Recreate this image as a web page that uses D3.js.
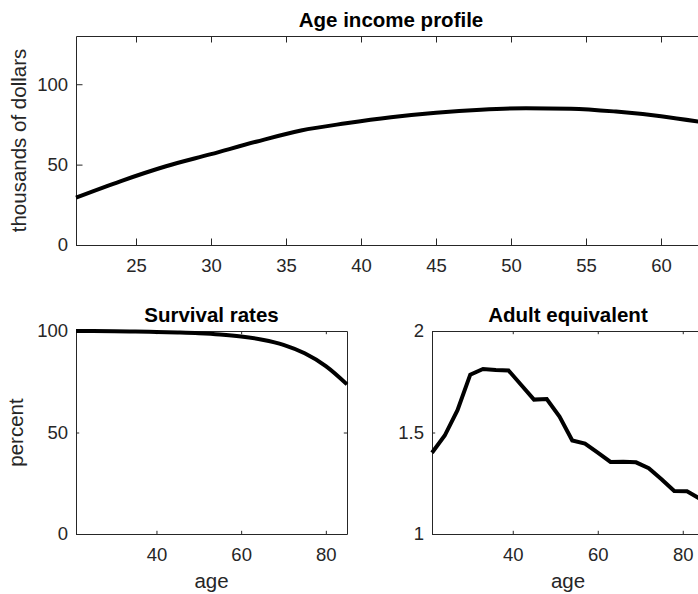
<!DOCTYPE html>
<html>
<head>
<meta charset="utf-8">
<script src="https://cdn.jsdelivr.net/npm/d3@7"></script>
<style>
  html, body { margin: 0; padding: 0; background: #fff; overflow: hidden; }
  svg { display: block; }
  text { font-family: "Liberation Sans", Arial, Helvetica, sans-serif; }
</style>
</head>
<body>
<svg id="fig" width="698" height="594"></svg>
<script>
// Age income profile (thousands of dollars)
const incomeAge   = [21, 24, 27, 30, 33, 36, 39, 42, 45, 48, 51, 54, 57, 60, 63];
const incomeValue = [29.5, 39.8, 49.0, 56.5, 64.2, 71.2, 75.7, 79.5, 82.3, 84.2, 85.1, 84.8, 83.0, 80.1, 76.0];

// Survival rates (percent)
const survivalAge   = [21, 25, 30, 35, 40, 45, 50, 55, 60, 65, 70, 75, 80, 85];
const survivalValue = [100, 99.95, 99.85, 99.7, 99.5, 99.25, 98.9, 98.3, 97.3, 95.7, 93.2, 89.0, 82.7, 73.7];

// Adult equivalent scale
const equivAge   = [21, 24, 27, 30, 33, 36, 39, 42, 45, 48, 51, 54, 57, 60, 63, 66, 69, 72, 75, 78, 81, 84];
const equivValue = [1.40, 1.485, 1.61, 1.785, 1.813, 1.808, 1.806, 1.734, 1.662, 1.665, 1.578, 1.461,
                    1.445, 1.401, 1.355, 1.356, 1.353, 1.324, 1.270, 1.212, 1.211, 1.174];

// Tick values
const incomeXTicks   = [25, 30, 35, 40, 45, 50, 55, 60];
const incomeYTicks   = [0, 50, 100];
const lowerXTicks    = [40, 60, 80];
const survivalYTicks = [0, 50, 100];
const equivYTicks    = [1, 1.5, 2];

const AXIS_COLOR = "#262626";
const svg = d3.select("#fig");
const fmt = d3.format("~g");

function panel(o) {
  const x = d3.scaleLinear().domain(o.xDomain).range([o.x0, o.x1]);
  const y = d3.scaleLinear().domain(o.yDomain).range([o.y1, o.y0]);
  const g = svg.append("g");
  const tl = o.tickLen;

  // boxed axes with inward ticks on all four sides
  g.append("g").attr("transform", `translate(0,${o.y1})`)
    .call(d3.axisBottom(x).tickValues(o.xTicks).tickSizeInner(-tl).tickSizeOuter(0)
      .tickPadding(14).tickFormat(fmt));
  g.append("g").attr("transform", `translate(0,${o.y0})`)
    .call(d3.axisTop(x).tickValues(o.xTicks).tickSizeInner(-tl).tickSizeOuter(0)
      .tickFormat(() => ""));
  g.append("g").attr("transform", `translate(${o.x0},0)`)
    .call(d3.axisLeft(y).tickValues(o.yTicks).tickSizeInner(-tl).tickSizeOuter(0)
      .tickPadding(8).tickFormat(fmt));
  g.append("g").attr("transform", `translate(${o.x1},0)`)
    .call(d3.axisRight(y).tickValues(o.yTicks).tickSizeInner(-tl).tickSizeOuter(0)
      .tickFormat(() => ""));

  g.selectAll(".domain").attr("stroke", AXIS_COLOR).attr("stroke-width", 1);
  g.selectAll(".tick line").attr("stroke", AXIS_COLOR).attr("stroke-width", 1);
  g.selectAll(".tick text").attr("fill", AXIS_COLOR)
    .style("font-size", "18.5px").style("font-family", '"Liberation Sans", Arial, sans-serif');

  // data line
  const pts = o.ages.map((a, i) => [a, o.values[i]]);
  g.append("path")
    .datum(pts)
    .attr("fill", "none")
    .attr("stroke", "#000")
    .attr("stroke-width", 4)
    .attr("stroke-linejoin", "miter")
    .attr("d", d3.line().x(d => x(d[0])).y(d => y(d[1])).curve(o.curve));

  // title
  g.append("text")
    .attr("x", (o.x0 + o.x1) / 2).attr("y", o.y0 - 9.5)
    .attr("text-anchor", "middle")
    .style("font-size", "20.5px").style("font-weight", "bold")
    .attr("fill", "#000")
    .text(o.title);

  if (o.xLabel) {
    g.append("text")
      .attr("x", (o.x0 + o.x1) / 2).attr("y", 588)
      .attr("text-anchor", "middle")
      .style("font-size", "20.5px")
      .attr("fill", AXIS_COLOR)
      .text(o.xLabel);
  }
  if (o.yLabel) {
    g.append("text")
      .attr("transform", `translate(${o.yLabelX},${(o.y0 + o.y1) / 2}) rotate(-90)`)
      .attr("text-anchor", "middle")
      .style("font-size", "20.5px")
      .attr("fill", AXIS_COLOR)
      .text(o.yLabel);
  }
}

panel({
  x0: 76, x1: 706, y0: 36, y1: 245,
  xDomain: [21, 63], yDomain: [0, 130],
  xTicks: incomeXTicks, yTicks: incomeYTicks, tickLen: 6.5,
  ages: incomeAge, values: incomeValue, curve: d3.curveMonotoneX,
  title: "Age income profile", yLabel: "thousands of dollars", yLabelX: 25.5
});

panel({
  x0: 76, x1: 347, y0: 331, y1: 534,
  xDomain: [21, 85], yDomain: [0, 100],
  xTicks: lowerXTicks, yTicks: survivalYTicks, tickLen: 3.2,
  ages: survivalAge, values: survivalValue, curve: d3.curveMonotoneX,
  title: "Survival rates", xLabel: "age", yLabel: "percent", yLabelX: 23
});

panel({
  x0: 432, x1: 704, y0: 331, y1: 534,
  xDomain: [21, 85], yDomain: [1, 2],
  xTicks: lowerXTicks, yTicks: equivYTicks, tickLen: 3.2,
  ages: equivAge, values: equivValue, curve: d3.curveLinear,
  title: "Adult equivalent", xLabel: "age"
});
</script>
</body>
</html>
